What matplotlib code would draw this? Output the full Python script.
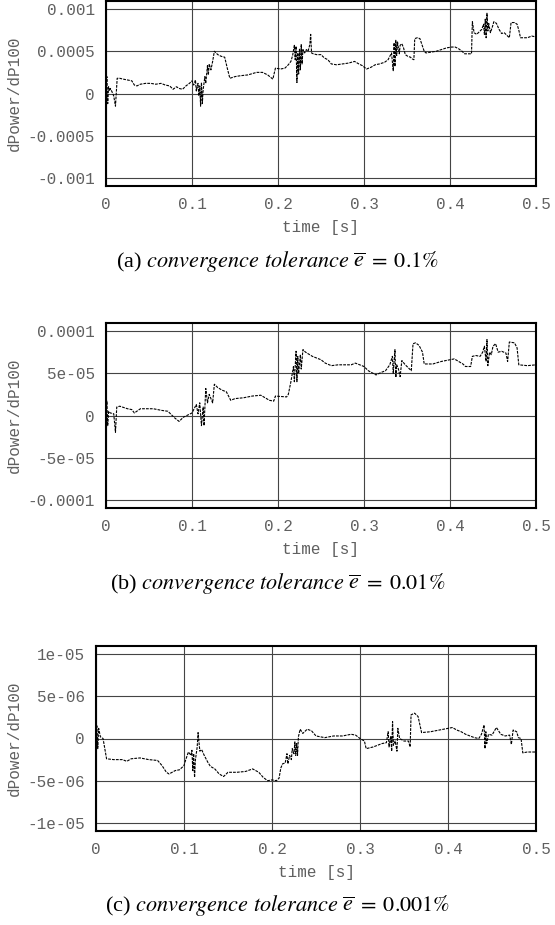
import numpy as np
import matplotlib
matplotlib.use('Agg')
import matplotlib.pyplot as plt

# sensitivity dPower/dP100 for three convergence tolerances
t_a = [0.000, 0.001, 0.002, 0.003, 0.004, 0.005, 0.007, 0.009, 0.011, 0.013, 0.016, 0.020, 0.025, 0.030,
       0.033, 0.036, 0.040, 0.046, 0.052, 0.058, 0.064, 0.069, 0.074, 0.078, 0.082, 0.085, 0.089, 0.093,
       0.097, 0.100, 0.102, 0.104, 0.105, 0.107, 0.108, 0.109, 0.110, 0.111, 0.112, 0.113, 0.115, 0.116,
       0.118, 0.119, 0.120, 0.122, 0.124, 0.126, 0.130, 0.134, 0.138, 0.141, 0.144, 0.150, 0.156, 0.165,
       0.175, 0.182, 0.188, 0.194, 0.197, 0.203, 0.208, 0.212, 0.215, 0.217, 0.219, 0.220, 0.221, 0.222,
       0.223, 0.224, 0.225, 0.226, 0.227, 0.228, 0.229, 0.231, 0.233, 0.235, 0.237, 0.238, 0.239, 0.241,
       0.245, 0.250, 0.254, 0.258, 0.262, 0.268, 0.275, 0.282, 0.289, 0.294, 0.298, 0.303, 0.308, 0.313,
       0.318, 0.324, 0.328, 0.330, 0.332, 0.333, 0.334, 0.335, 0.336, 0.337, 0.338, 0.339, 0.341, 0.342,
       0.344, 0.346, 0.348, 0.351, 0.354, 0.356, 0.358, 0.359, 0.362, 0.365, 0.368, 0.370, 0.372, 0.378,
       0.384, 0.390, 0.396, 0.402, 0.406, 0.410, 0.414, 0.417, 0.421, 0.425, 0.426, 0.428, 0.431, 0.434,
       0.437, 0.439, 0.440, 0.441, 0.442, 0.443, 0.444, 0.445, 0.447, 0.449, 0.451, 0.454, 0.457, 0.460,
       0.463, 0.466, 0.469, 0.471, 0.475, 0.478, 0.480, 0.482, 0.486, 0.490, 0.495, 0.500]
v_a = [0.0, 2.0, -1.2, 0.8, 0.3, 0.6, 0.2, -0.3, -1.5, 1.8, 1.8, 1.7, 1.6, 1.5,
       1.0, 0.9, 1.1, 1.2, 1.2, 1.1, 1.2, 1.0, 0.9, 0.5, 0.8, 0.6, 0.5, 0.9,
       1.2, 1.5, 1.0, 1.6, 0.3, 1.2, -0.3, 0.9, -1.5, 1.3, -1.2, 0.5, 2.0, 1.2,
       3.3, 2.2, 3.5, 2.8, 3.8, 5.0, 4.6, 4.4, 4.3, 3.0, 1.8, 2.0, 2.1, 2.2,
       2.5, 2.5, 2.2, 1.7, 3.0, 2.9, 3.0, 3.4, 3.8, 4.5, 5.7, 4.0, 5.6, 1.3,
       4.8, 2.3, 5.3, 2.8, 5.8, 3.5, 5.2, 4.8, 5.2, 5.0, 5.8, 7.0, 4.8, 4.7,
       4.6, 4.6, 4.2, 4.0, 3.5, 3.4, 3.5, 3.6, 3.8, 3.5, 3.3, 2.9, 3.1, 3.4,
       3.5, 3.7, 4.0, 4.4, 4.8, 3.8, 2.7, 6.0, 3.2, 6.3, 4.5, 6.1, 4.7, 5.7,
       5.9, 5.4, 4.6, 4.4, 4.3, 4.1, 4.0, 6.5, 6.6, 6.5, 5.6, 5.0, 4.8, 4.9,
       5.0, 5.2, 5.4, 5.5, 5.5, 5.3, 5.0, 4.7, 4.7, 4.7, 8.5, 7.2, 7.0, 7.3,
       7.6, 8.2, 7.0, 8.8, 6.6, 9.5, 7.4, 8.3, 7.2, 7.8, 8.5, 8.3, 7.6, 7.1,
       7.2, 6.9, 6.6, 8.4, 8.4, 8.2, 7.5, 6.6, 6.6, 6.6, 6.8, 6.7]  # x 1e-4

t_b = [0.000, 0.001, 0.002, 0.003, 0.005, 0.009, 0.011, 0.0125, 0.016, 0.025, 0.030, 0.033, 0.040, 0.055,
       0.065, 0.072, 0.080, 0.085, 0.090, 0.098, 0.100, 0.105, 0.107, 0.109, 0.111, 0.113, 0.114, 0.116,
       0.118, 0.120, 0.122, 0.124, 0.126, 0.130, 0.135, 0.140, 0.145, 0.150, 0.160, 0.170, 0.180, 0.190,
       0.195, 0.197, 0.210, 0.212, 0.215, 0.218, 0.219, 0.221, 0.222, 0.223, 0.224, 0.226, 0.227, 0.229,
       0.232, 0.240, 0.245, 0.250, 0.255, 0.262, 0.270, 0.285, 0.290, 0.300, 0.305, 0.314, 0.320, 0.325,
       0.330, 0.333, 0.334, 0.336, 0.337, 0.338, 0.340, 0.342, 0.344, 0.348, 0.350, 0.355, 0.357, 0.360,
       0.364, 0.368, 0.370, 0.380, 0.390, 0.400, 0.405, 0.410, 0.415, 0.418, 0.424, 0.426, 0.430, 0.435,
       0.438, 0.440, 0.442, 0.443, 0.444, 0.446, 0.448, 0.450, 0.453, 0.456, 0.460, 0.465, 0.467, 0.469,
       0.475, 0.478, 0.480, 0.490, 0.500]
v_b = [0.0, 1.7, -1.2, 0.5, 0.3, 0.2, -2.0, 1.0, 1.1, 0.8, 0.7, 0.3, 0.8, 0.8,
       0.6, 0.5, -0.3, -0.7, -0.2, 0.2, 0.3, 1.3, 0.2, 1.5, -1.2, 1.0, -1.2, 3.2,
       1.5, 2.5, 2.0, 1.5, 3.7, 3.3, 3.0, 2.8, 1.8, 2.0, 2.1, 2.3, 2.4, 1.8,
       1.7, 2.3, 2.2, 2.5, 4.0, 5.8, 4.0, 7.6, 4.0, 7.0, 5.0, 7.2, 5.5, 7.8,
       7.5, 7.0, 6.8, 6.6, 6.2, 5.9, 6.0, 6.0, 6.2, 5.8, 5.3, 4.8, 5.1, 5.3,
       6.0, 7.0, 5.0, 7.8, 4.5, 6.0, 5.5, 4.6, 6.5, 6.0, 5.8, 5.3, 8.5, 8.6,
       8.3, 7.5, 6.1, 6.1, 6.4, 6.6, 6.7, 6.4, 6.1, 5.8, 5.8, 7.0, 7.1, 7.0,
       7.5, 8.2, 6.4, 9.0, 5.9, 7.5, 7.2, 8.2, 8.5, 7.5, 7.6, 7.4, 6.4, 8.7,
       8.6, 8.0, 6.0, 5.9, 6.0]  # x 1e-5

t_c = [0.000, 0.001, 0.002, 0.003, 0.005, 0.008, 0.012, 0.020, 0.030, 0.035, 0.040, 0.050, 0.060, 0.070,
       0.075, 0.080, 0.083, 0.090, 0.095, 0.100, 0.102, 0.105, 0.108, 0.109, 0.110, 0.111, 0.112, 0.113,
       0.115, 0.116, 0.118, 0.120, 0.123, 0.127, 0.130, 0.135, 0.140, 0.145, 0.150, 0.160, 0.170, 0.178,
       0.185, 0.190, 0.195, 0.200, 0.205, 0.208, 0.210, 0.212, 0.215, 0.217, 0.218, 0.220, 0.222, 0.223,
       0.225, 0.226, 0.227, 0.228, 0.229, 0.230, 0.232, 0.235, 0.240, 0.245, 0.250, 0.260, 0.270, 0.280,
       0.290, 0.295, 0.300, 0.305, 0.307, 0.315, 0.320, 0.325, 0.330, 0.332, 0.333, 0.335, 0.336, 0.337,
       0.338, 0.340, 0.342, 0.343, 0.345, 0.350, 0.355, 0.357, 0.358, 0.362, 0.366, 0.370, 0.380, 0.390,
       0.400, 0.405, 0.410, 0.415, 0.420, 0.430, 0.435, 0.438, 0.441, 0.442, 0.443, 0.444, 0.446, 0.450,
       0.455, 0.460, 0.465, 0.470, 0.472, 0.474, 0.478, 0.480, 0.483, 0.485, 0.490, 0.500]
v_c = [0.5, 1.5, -1.2, 1.2, 0.2, 0.0, -2.4, -2.5, -2.5, -2.7, -2.4, -2.3, -2.5, -2.6,
       -3.2, -4.0, -4.2, -3.8, -3.7, -3.2, -2.5, -1.6, -2.0, -1.4, -3.8, -1.8, -4.6, -2.5,
       -1.0, 0.7, -1.5, -1.3, -2.0, -2.8, -3.3, -3.6, -4.2, -4.5, -4.0, -4.0, -3.9, -3.6,
       -4.0, -4.6, -5.0, -4.9, -5.0, -4.7, -3.5, -3.0, -2.9, -1.8, -3.0, -2.0, -2.5, -1.2,
       -1.8, -0.4, -2.0, -0.6, -2.0, 0.2, 1.1, 0.6, 1.1, 0.9, 0.3, 0.1, 0.3, 0.3,
       0.5, 0.4, 0.0, -0.3, -1.2, -1.0, -0.8, -0.6, -0.5, 0.8, -1.0, 0.3, -1.5, 2.0,
       -0.8, -0.3, -1.5, 1.2, 0.0, -0.3, -0.3, -1.0, 2.8, 3.0, 2.6, 0.7, 0.8, 1.0,
       1.2, 1.3, 1.0, 0.8, 0.5, 0.1, 0.0, 0.5, 1.6, -1.2, 0.8, -0.6, 0.5, 0.4,
       1.3, 0.5, 0.3, 0.4, -0.7, 1.0, 0.8, 0.1, 0.0, -1.7, -1.6, -1.6]  # x 1e-6

scales = [1e-4, 1e-5, 1e-6]
yticks = [[-0.001, -0.0005, 0, 0.0005, 0.001],
          [-0.0001, -5e-05, 0, 5e-05, 0.0001],
          [-1e-05, -5e-06, 0, 5e-06, 1e-05]]
ytick_labels = [['-0.001', '-0.0005', '0', '0.0005', '0.001'],
                ['-0.0001', '-5e-05', '0', '5e-05', '0.0001'],
                ['-1e-05', '-5e-06', '0', '5e-06', '1e-05']]
xticks = [0, 0.1, 0.2, 0.3, 0.4, 0.5]
xtick_labels = ['0', '0.1', '0.2', '0.3', '0.4', '0.5']
captions = [r'(a) $\mathit{convergence\ tolerance}\ \overline{e}\;=\;0.1\%$',
            r'(b) $\mathit{convergence\ tolerance}\ \overline{e}\;=\;0.01\%$',
            r'(c) $\mathit{convergence\ tolerance}\ \overline{e}\;=\;0.001\%$']

plt.rcParams['mathtext.fontset'] = 'stix'
mono = 'Liberation Mono'
gray = '#606060'

W, H = 555, 925
fig = plt.figure(figsize=(W / 100, H / 100), dpi=100)

# axes boxes in pixels: left, top, right, bottom
boxes = [(106, 1, 536, 186), (106, 323, 536, 508), (96, 646, 536, 831)]
cap_y = [262, 583, 905]
series = [(t_a, v_a), (t_b, v_b), (t_c, v_c)]

for i, (l, t, r, b) in enumerate(boxes):
    ax = fig.add_axes([l / W, 1 - b / H, (r - l) / W, (b - t) / H])
    tt, vv = series[i]
    ax.plot(tt, np.array(vv) * scales[i], color='black', lw=0.8, ls=(0, (2.5, 1)))
    top = yticks[i][-1] * 1.095
    ax.set_xlim(0, 0.5)
    ax.set_ylim(-top, top)
    ax.set_xticks(xticks)
    ax.set_xticklabels(xtick_labels)
    ax.set_yticks(yticks[i])
    ax.set_yticklabels(ytick_labels[i])
    ax.tick_params(length=0, labelsize=11.5, labelcolor=gray, pad=8)
    for lab in ax.get_xticklabels() + ax.get_yticklabels():
        lab.set_family(mono)
    ax.grid(True, color='#444444', lw=0.8)
    for s in ax.spines.values():
        s.set_linewidth(1.5)
    ax.set_xlabel('time [s]', family=mono, fontsize=11.5, color=gray, labelpad=6)
    ax.set_ylabel('dPower/dP100', family=mono, fontsize=11.5, color=gray)
    ax.yaxis.set_label_coords((22 - l) / (r - l), 0.5)
    fig.text(0.5, 1 - cap_y[i] / H, captions[i], ha='center', va='center',
             family='Liberation Serif', fontsize=16)

plt.savefig('out.png', dpi=100)
